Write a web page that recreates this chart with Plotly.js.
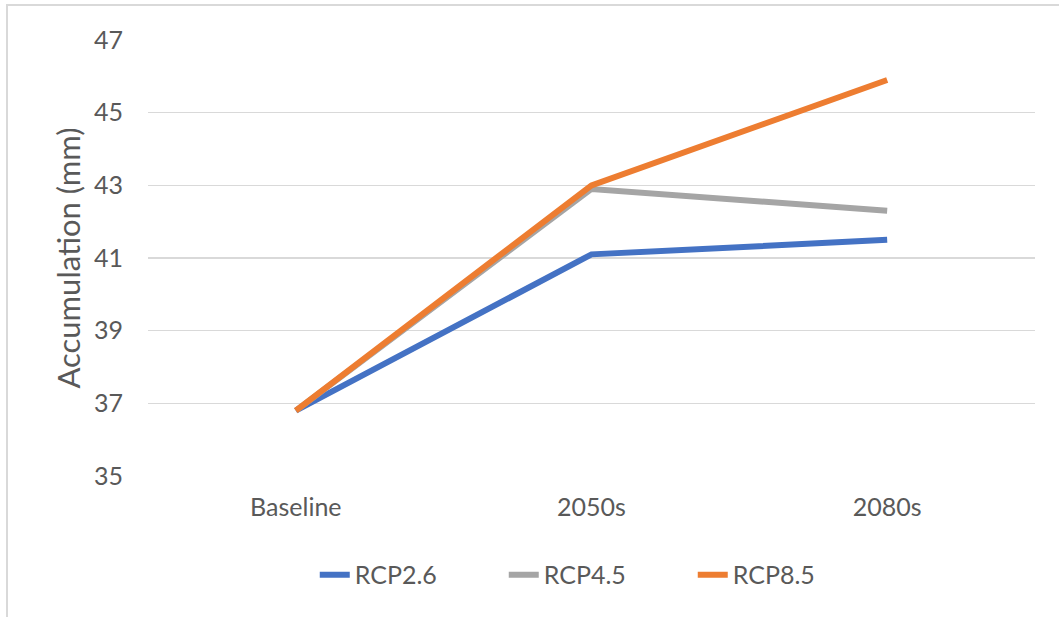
<!DOCTYPE html>
<html>
<head>
<meta charset="utf-8">
<script src="https://cdn.plot.ly/plotly-3.0.1.min.js"></script>
<style>
  html, body { margin: 0; padding: 0; background: #fff; }
  #wrap { position: relative; width: 1059px; height: 617px; overflow: hidden; }
  #chart { width: 1059px; height: 617px; }
  #frame { position: absolute; left: 6px; top: 4px; width: 1100px; height: 700px;
           border-left: 2px solid #d9d9d9; border-top: 2px solid #d9d9d9; pointer-events: none; }
</style>
</head>
<body>
<div id="wrap">
  <div id="chart"></div>
  <div id="frame"></div>
</div>
<script>
// Periods on the category axis
const periods = ['Baseline', '2050s', '2080s'];

// Accumulation (mm) per scenario
const rcp26 = [36.8, 41.1, 41.5];
const rcp45 = [36.8, 42.9, 42.3];
const rcp85 = [36.8, 43.0, 45.9];

const seriesNames = ['RCP2.6', 'RCP4.5', 'RCP8.5'];
const seriesColors = ['#4472C4', '#A5A5A5', '#ED7D31'];
const yTicks = [35, 37, 39, 41, 43, 45, 47];

const FONT = 'Lato, "Liberation Sans", sans-serif';
const TEXT = '#595959';

const traces = [rcp26, rcp45, rcp85].map((vals, i) => ({
  type: 'scatter',
  mode: 'lines',
  x: periods,
  y: vals,
  name: seriesNames[i],
  line: { color: seriesColors[i], width: 6, shape: 'linear' },
  hoverinfo: 'x+y+name'
}));

const layout = {
  width: 1059,
  height: 617,
  margin: { l: 148, r: 24, t: 40, b: 141 },
  paper_bgcolor: '#ffffff',
  plot_bgcolor: '#ffffff',
  font: { family: FONT, color: TEXT, size: 25 },
  showlegend: true,
  legend: {
    orientation: 'h',
    x: 0.188, xanchor: 'left',
    y: -0.227, yanchor: 'middle',
    entrywidth: 144,
    entrywidthmode: 'pixels',
    font: { family: FONT, size: 25, color: TEXT },
    traceorder: 'normal'
  },
  xaxis: {
    type: 'category',
    categoryarray: periods,
    range: [-0.5, 2.5],
    showgrid: false,
    showline: false,
    zeroline: false,
    ticks: '',
    ticklabelstandoff: 14,
    tickfont: { family: FONT, size: 25, color: TEXT }
  },
  yaxis: {
    range: [35, 47],
    tickvals: yTicks,
    ticktext: yTicks.map(String),
    showgrid: true,
    gridcolor: '#d9d9d9',
    gridwidth: 1.5,
    zeroline: false,
    showline: false,
    ticks: '',
    ticklabelstandoff: 24,
    tickfont: { family: FONT, size: 25, color: TEXT },
    title: { text: 'Accumulation (mm)', font: { family: FONT, size: 31, color: TEXT }, standoff: 4 }
  }
};

Plotly.newPlot('chart', traces, layout, { displayModeBar: false, staticPlot: true });
</script>
</body>
</html>
